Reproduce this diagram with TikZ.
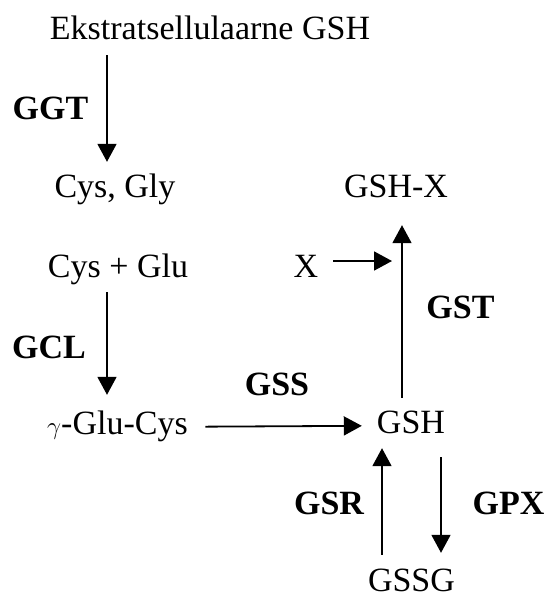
\documentclass[tikz,border=0pt]{standalone}
\usepackage{fontspec}
\setmainfont{Liberation Serif}
\usetikzlibrary{arrows.meta}
\begin{document}
\begin{tikzpicture}[x=1pt,y=-1pt,
  txt/.style={font=\fontsize{34}{40}\selectfont, inner sep=0pt, text height=22.5pt, text depth=0pt, anchor=base},
  lbl/.style={txt, font=\fontsize{34}{40}\selectfont\bfseries},
  arr/.style={line width=1.8pt, -{Triangle[width=19pt,length=18pt]}}]
\useasboundingbox (0,0) rectangle (547,595);
% columns for vertical connectors
\coordinate (c1) at (107,0);
\coordinate (c2) at (402,0);
\coordinate (c3) at (382,0);
\coordinate (c4) at (441,0);
% nodes
\node[txt] (ekstra) at (210,39) {Ekstratsellulaarne GSH};
\node[txt] (cysgly) at (115,197) {Cys, Gly};
\node[txt] (gshx) at (396,197) {GSH-X};
\node[txt] (x) at (306,277) {X};
\node[txt] (cysglu) at (118,277) {Cys + Glu};
\node[txt] (gcys) at (117.5,434) {$\gamma$-Glu-Cys};
\node[txt] (gsh) at (411,433) {GSH};
\node[txt] (gssg) at (411.5,591.5) {GSSG};
% enzyme labels
\node[lbl] (ggt) at (50.5,119) {GGT};
\node[lbl] (gcl) at (49,358) {GCL};
\node[lbl] (gst) at (460.5,318) {GST};
\node[lbl] (gss) at (277,395) {GSS};
\node[lbl] (gsr) at (329,514) {GSR};
\node[lbl] (gpx) at (508.5,514) {GPX};
\coordinate (xe) at (392,261);
% connectors
\draw[arr, shorten <=16pt, shorten >=12.5pt] (ekstra.south -| c1) -- (cysgly.north -| c1);
\draw[arr, shorten <=15pt, shorten >=16.5pt] (cysglu.south -| c1) -- (gcys.north -| c1);
\draw[arr, shorten <=17.5pt, shorten >=15pt] ([yshift=-4pt]gcys.east) -- ([yshift=-4pt]gsh.west);
\draw[arr, shorten <=12.5pt, shorten >=28pt] (gsh.north -| c2) -- (gshx.south -| c2);
\draw[arr, shorten <=15pt] (x.east |- xe) -- (xe);
\draw[arr, shorten <=14pt, shorten >=15pt] (gssg.north -| c3) -- (gsh.south -| c3);
\draw[arr, shorten <=24pt, shorten >=16pt] (gsh.south -| c4) -- (gssg.north -| c4);
\end{tikzpicture}
\end{document}
